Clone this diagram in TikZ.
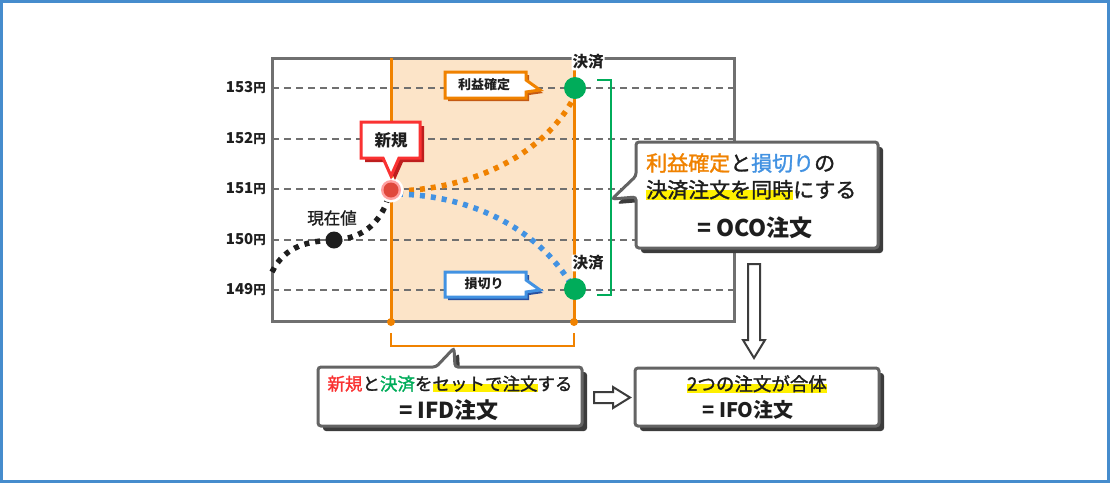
\documentclass[tikz,border=0pt]{standalone}
\usepackage{fontspec}
\setmainfont{Noto Sans CJK JP}
\newfontfamily\med{Noto Sans CJK JP}[FakeBold=1.4]
\definecolor{pageblue}{RGB}{70,140,205}
\definecolor{oC}{RGB}{240,130,0}
\definecolor{oShadow}{RGB}{196,90,20}
\definecolor{peach}{RGB}{252,228,200}
\definecolor{gC}{RGB}{0,172,90}
\definecolor{bC}{RGB}{66,146,226}
\definecolor{bShadow}{RGB}{40,80,160}
\definecolor{rC}{RGB}{250,50,50}
\definecolor{rShadow}{RGB}{190,30,30}
\definecolor{rDot}{RGB}{224,72,60}
\definecolor{rRing}{RGB}{255,160,160}
\definecolor{frameC}{RGB}{112,112,112}
\definecolor{gridC}{RGB}{112,112,112}
\definecolor{boxC}{RGB}{100,100,100}
\definecolor{boxShadow}{RGB}{60,60,60}
\definecolor{hly}{RGB}{255,240,0}
\definecolor{txt}{RGB}{30,30,30}
\newsavebox\hlbox
\newcommand\hlt[1]{\sbox\hlbox{#1}\rlap{\textcolor{hly}{\rule[-0.12em]{\wd\hlbox}{0.48em}}}\usebox\hlbox}
\begin{document}
\begin{tikzpicture}[x=1pt,y=-1pt,
  gridline/.style={draw=gridC,line width=2,dash pattern=on 7 off 5},
  ylab/.style={anchor=east,inner sep=0,text=txt,font=\fontsize{15}{17}\selectfont\bfseries},
  oline/.style={draw=oC,line width=3},
  odot/.style={circle,fill=oC,inner sep=0,minimum size=8},
  gdot/.style={circle,fill=gC,inner sep=0,minimum size=22},
  dotted curve/.style={line width=5.5,dash pattern=on 5 off 6},
  smalllab/.style={inner sep=1,fill=white,rounded corners=2,text=txt,font=\fontsize{15.5}{17}\selectfont\bfseries},
  boxtxt/.style={inner sep=0,text=txt},
  ocop/.style={insert path={(636,142) -- (878,142) -- (878,248) -- (636,248) -- (636,197) -- (612,199) -- (636,176) -- cycle}},
  ifdp/.style={insert path={(318,367) -- (436,367) -- (454,348) -- (455,367) -- (582,367) -- (582,426) -- (318,426) -- cycle}},
  ifop/.style={insert path={(635,368) rectangle (879,426)}},
  newp/.style={insert path={(361,122) -- (420,122) -- (420,158) -- (399,158) -- (391,176) -- (383,158) -- (361,158) -- cycle}},
  profp/.style={insert path={(445,72) -- (526,72) -- (526,80) -- (540,90) -- (526,92) -- (526,98) -- (445,98) -- cycle}},
  lossp/.style={insert path={(445,272) -- (526,272) -- (526,280) -- (540,290) -- (526,292) -- (526,297) -- (445,297) -- cycle}},
  hollow/.style={draw=boxShadow,line width=2,fill=white,line join=miter}
]
\useasboundingbox (0,0) rectangle (1110,483);
\fill[white] (0,0) rectangle (1110,483);
\draw[pageblue,line width=3] (1.5,1.5) rectangle (1108.5,481.5);

% shaded holding period
\fill[peach] (391,58) rectangle (574,321);

% grid and price labels
\foreach \yy/\lab in {88/153,139/152,189/151,240/150,290/149}{
  \draw[gridline] (272,\yy) -- (734,\yy);
  \node[ylab] (y\lab) at (266,\yy) {\lab{\fontsize{12.5}{14}\selectfont 円}};
}

% chart frame
\draw[frameC,line width=3] (272,58) rectangle (734,321);

% nodes for the dots
\coordinate (start) at (272,272);
\node[circle,fill=txt,inner sep=0,minimum size=17] (now) at (334,240) {};
\coordinate (entryA) at (398,191);
\coordinate (entryB) at (398,194);
\coordinate (exitP) at (572,101);
\coordinate (exitL) at (569,281);

% dotted price paths
\draw[dotted curve,draw=txt] (start) .. controls (285,245) and (310,241) .. (now.center)
  .. controls (360,239) and (380,225) .. (388,198);
\draw[dotted curve,draw=oC] (entryA) .. controls (480,188) and (545,150) .. (exitP);
\draw[dotted curve,draw=bC] (entryB) .. controls (480,196) and (540,235) .. (exitL);

% orange verticals
\draw[oline] (391,58) -- (391,322);
\draw[oline] (574,58) -- (574,322);
\node[odot] (ob1) at (391,322) {};
\node[odot] (ob2) at (574,322) {};

% entry dot
\fill[white] (391,190) circle (12.5);
\fill[rRing] (391,190) circle (10);
\fill[rDot] (391,190) circle (7.5);
\node[circle,inner sep=0,minimum size=20] (entry) at (391,190) {};

% exit dots
\node[gdot] (exit1) at (575,88) {};
\node[gdot] (exit2) at (575,289) {};
\node[smalllab] (kessai1) at (588,62) {決済};
\node[smalllab] (kessai2) at (588,263) {決済};
\node[boxtxt,font=\fontsize{16.5}{18}\selectfont\med] (nowlab) at (332,218) {現在値};

% green bracket
\draw[gC,line width=2] (597,80) -- (611,80) -- (611,295) -- (597,295);

% orange bracket
\draw[oC,line width=2] (391,333) -- (391,346) -- (574,346) -- (574,333);

% 新規 callout
\path[fill=rShadow,shift={(4,4)},newp];
\path[fill=white,draw=rC,line width=3,line join=miter,newp];
\node[boxtxt,font=\fontsize{16.5}{18}\selectfont\bfseries] (newlab) at (391,140) {新規};

% 利益確定 callout
\path[fill=oShadow,shift={(3,3)},profp];
\path[fill=white,draw=oC,line width=3,line join=miter,profp];
\node[boxtxt,font=\fontsize{13}{15}\selectfont\bfseries] (proflab) at (484,85) {利益確定};

% 損切り callout
\path[fill=bShadow,shift={(3,3)},lossp];
\path[fill=white,draw=bC,line width=3,line join=miter,lossp];
\node[boxtxt,font=\fontsize{13}{15}\selectfont\bfseries] (losslab) at (484,284) {損切り};

% OCO callout
\path[fill=boxShadow,shift={(5,5)},rounded corners=3,ocop];
\path[fill=white,draw=boxC,line width=3,rounded corners=3,ocop];
\node[boxtxt,anchor=west,font=\fontsize{21}{24}\selectfont\med] (oco1) at (646,163)
  {\textcolor{oC}{利益確定}と\textcolor{bC}{損切り}の};
\node[boxtxt,anchor=west,font=\fontsize{21}{24}\selectfont\med] (oco2) at (646,190)
  {\hlt{決済注文を同時}にする};
\node[boxtxt,font=\fontsize{23}{26}\selectfont\bfseries] (oco3) at (755,228) {= OCO注文};

% IFD callout
\path[fill=boxShadow,shift={(5,5)},rounded corners=3,ifdp];
\path[fill=white,draw=boxC,line width=3,rounded corners=3,ifdp];
\node[boxtxt,font=\fontsize{17.5}{20}\selectfont\med] (ifd1) at (450,384)
  {\textcolor{rC}{新規}と\textcolor{gC}{決済}を\hlt{セットで注文}する};
\node[boxtxt,font=\fontsize{22}{25}\selectfont\bfseries] (ifd2) at (449,410) {= IFD注文};

% IFO box
\path[fill=boxShadow,shift={(5,5)},rounded corners=3,ifop];
\path[fill=white,draw=boxC,line width=3,rounded corners=3,ifop];
\node[boxtxt,font=\fontsize{18.5}{21}\selectfont\med] (ifo1) at (757,384) {\hlt{2つの注文が合体}};
\node[boxtxt,font=\fontsize{20}{23}\selectfont\bfseries] (ifo2) at (748,410) {= IFO注文};

% hollow arrows
\draw[hollow] (748,264) -- (760,264) -- (760,340) -- (765,340) -- (754,358) -- (743,340) -- (748,340) -- cycle;
\draw[hollow] (594,392) -- (613,392) -- (613,387) -- (630,397.5) -- (613,408) -- (613,403) -- (594,403) -- cycle;
\end{tikzpicture}
\end{document}
